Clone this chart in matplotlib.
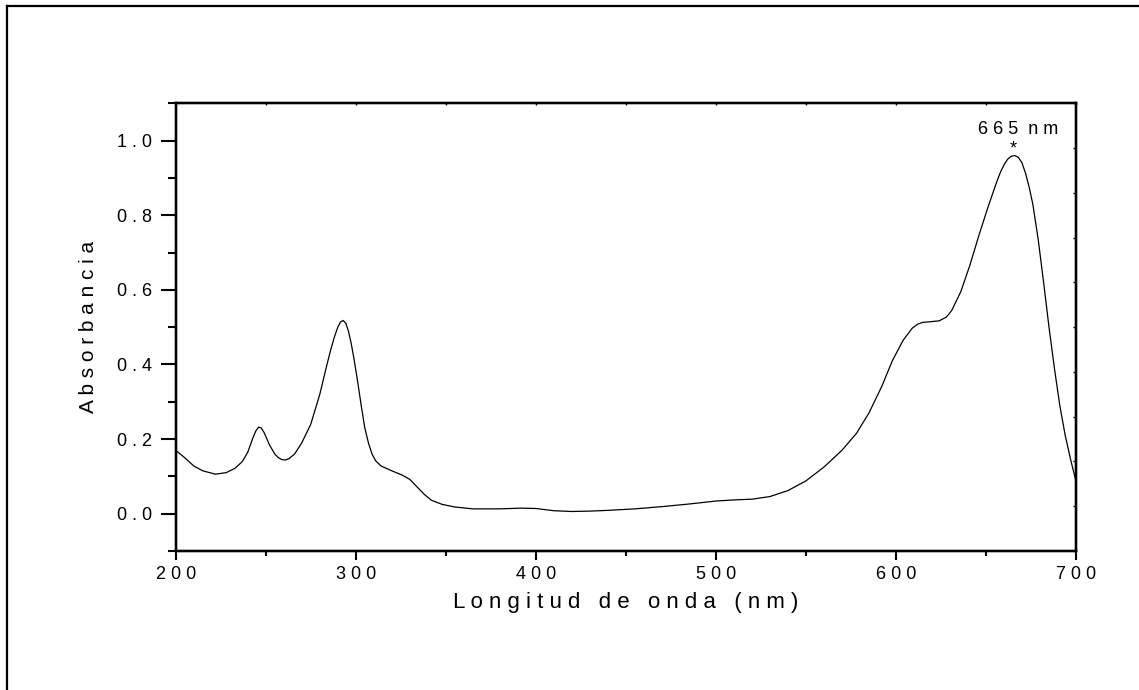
"""
Espectro UV-Vis: absorbancia vs longitud de onda
"""

import numpy as np
import matplotlib
matplotlib.use('Agg')
import matplotlib.pyplot as plt
from matplotlib.lines import Line2D
from matplotlib.ticker import MultipleLocator, FuncFormatter

plt.rcParams['font.family'] = ['Liberation Sans', 'DejaVu Sans']

# Data
wavelength = [200, 205, 210, 215, 222, 228, 233, 237, 240, 243, 244.5, 246,
              247.5, 249, 250.5, 252, 255, 257, 259, 261, 263, 266, 270, 275,
              280, 282, 284, 286, 288, 290, 291.5, 293, 294.5, 296, 297.5, 299,
              301, 303, 305, 307, 309, 311, 314, 320, 326, 330, 334, 338, 342,
              348, 355, 365, 380, 392, 400, 410, 420, 430, 440, 455, 470, 485,
              500, 510, 520, 530, 540, 550, 560, 570, 578, 585, 592, 598, 604,
              609, 612, 615, 620, 624, 628, 631, 636, 641, 646, 651, 656, 658,
              660, 662, 664, 666, 668, 670, 672, 674, 676, 679, 682, 685, 688,
              691, 694, 697, 700]
absorbance = [0.170, 0.150, 0.128, 0.115, 0.106, 0.110, 0.122, 0.140, 0.165,
              0.205, 0.222, 0.232, 0.230, 0.218, 0.202, 0.185, 0.160, 0.150,
              0.145, 0.144, 0.148, 0.160, 0.190, 0.240, 0.320, 0.360, 0.400,
              0.438, 0.472, 0.500, 0.514, 0.518, 0.510, 0.488, 0.455, 0.415,
              0.355, 0.290, 0.230, 0.190, 0.160, 0.142, 0.128, 0.115, 0.103,
              0.092, 0.072, 0.052, 0.036, 0.025, 0.018, 0.013, 0.013, 0.015,
              0.014, 0.008, 0.006, 0.007, 0.009, 0.013, 0.019, 0.026, 0.034,
              0.037, 0.039, 0.046, 0.062, 0.088, 0.125, 0.170, 0.215, 0.270,
              0.340, 0.410, 0.465, 0.497, 0.508, 0.513, 0.515, 0.517, 0.527,
              0.545, 0.595, 0.665, 0.745, 0.820, 0.890, 0.915, 0.935, 0.950,
              0.958, 0.960, 0.955, 0.940, 0.912, 0.875, 0.830, 0.735, 0.620,
              0.500, 0.390, 0.290, 0.210, 0.145, 0.087]

peak_x = 665
peak_y = 0.978
peak_label = '665 nm'


def spaced(s, sep=' '):
    """Wide letter spacing like the original Origin plot"""
    return sep.join(s)


fig = plt.figure(figsize=(11.39, 6.90), dpi=100)
ax = fig.add_axes([0.1543, 0.2014, 0.7904, 0.6489])

ax.plot(wavelength, absorbance, color='black', lw=0.9)

ax.set_xlim(200, 700)
ax.set_ylim(-0.1, 1.1)

ax.xaxis.set_major_locator(MultipleLocator(100))
ax.xaxis.set_minor_locator(MultipleLocator(50))
ax.yaxis.set_major_locator(MultipleLocator(0.2))
ax.yaxis.set_minor_locator(MultipleLocator(0.1))
ax.xaxis.set_major_formatter(FuncFormatter(lambda v, p: spaced('%d' % v)))
ax.yaxis.set_major_formatter(FuncFormatter(lambda v, p: spaced('%.1f' % v)))

ax.tick_params(axis='y', which='major', direction='out', length=11, width=1.5,
               labelsize=13, pad=6)
ax.tick_params(axis='y', which='minor', direction='out', length=6, width=1.5)
ax.tick_params(axis='x', which='major', direction='out', length=6.5, width=1.5,
               labelsize=13, pad=4)
ax.tick_params(axis='x', which='minor', direction='out', length=3.6, width=1.5)

for sp in ax.spines.values():
    sp.set_linewidth(1.6)

ax.set_xlabel(' '.join('Longitud de onda (nm)'), fontsize=16, labelpad=7)
ax.set_ylabel(' '.join('Absorbancia'), fontsize=15, labelpad=14)

# opposite axes: small inward ticks, no labels
axr = ax.twinx()
axr.set_ylim(-0.1, 1.1)
axr.set_yticks(np.linspace(-0.1, 1.1, 11))
axr.tick_params(axis='y', direction='in', length=2.5, width=1, labelright=False)
axt = ax.twiny()
axt.set_xlim(200, 700)
axt.xaxis.set_major_locator(MultipleLocator(50))
axt.tick_params(axis='x', direction='in', length=1.5, width=1, labeltop=False)
for a in (axr, axt):
    for sp in a.spines.values():
        sp.set_linewidth(1.6)

# peak marker and label
ax.text(peak_x, peak_y, '*', ha='center', va='center', fontsize=13)
num, unit = peak_label.split()
ax.text(peak_x + 3, 1.03, spaced(num) + '  ' + spaced(unit),
        ha='center', va='center', fontsize=13)

# outer frame (left and top edges visible)
fig.add_artist(Line2D([7 / 1139, 7 / 1139], [0, 1 - 6 / 690], transform=fig.transFigure,
                      color='black', lw=1.6))
fig.add_artist(Line2D([7 / 1139, 1], [1 - 6 / 690, 1 - 6 / 690], transform=fig.transFigure,
                      color='black', lw=1.6))

fig.savefig('out.png', dpi=100)
